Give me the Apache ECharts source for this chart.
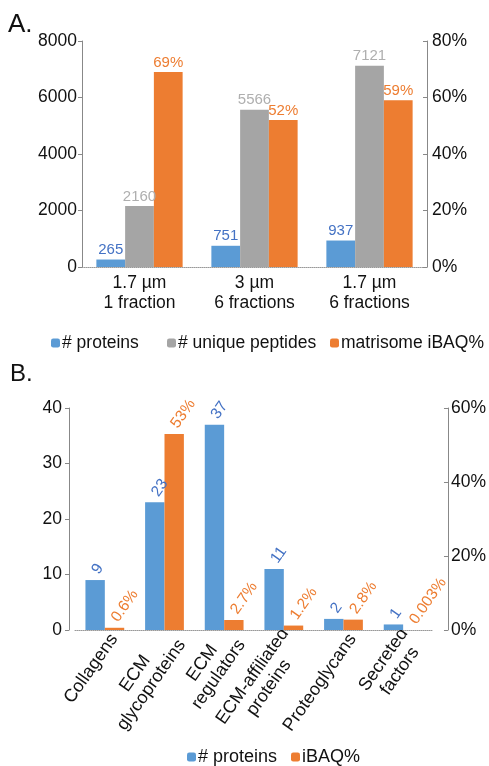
<!DOCTYPE html>
<html><head><meta charset="utf-8">
<script src="https://cdn.jsdelivr.net/npm/echarts@6/dist/echarts.min.js"></script>
<style>html,body{margin:0;padding:0;background:#fff}#c{width:489px;height:766px}</style>
</head><body><div id="c"></div>
<script>
// ---- data ----
const catsA = ['1.7 µm\n1 fraction', '3 µm\n6 fractions', '1.7 µm\n6 fractions'];
const proteinsA = [265, 751, 937];
const peptidesA = [2160, 5566, 7121];
const ibaqA = [69, 52, 59];

const catsB = ['Collagens', 'ECM\nglycoproteins', 'ECM\nregulators', 'ECM-affiliated\nproteins', 'Proteoglycans', 'Secreted\nfactors'];
const proteinsB = [9, 23, 37, 11, 2, 1];
const ibaqB = [0.6, 53, 2.7, 1.2, 2.8, 0.003];

const legendA = ['# proteins', '# unique peptides', 'matrisome iBAQ%'];
const legendB = ['# proteins', 'iBAQ%'];

// ---- styles ----
const FONT = "'Liberation Sans', Arial, sans-serif";
const BLUE = '#5B9BD5', GRAY = '#A5A5A5', ORANGE = '#ED7D31';
const BLUE_T = '#4472C4', GRAY_T = '#AFAFAF', ORANGE_T = '#ED7D31';
const AX = '#888888', TXT = '#111111';

function yAx(grid, pos, min, max, interval, suffix, offset, margin) {
  return {
    type: 'value', gridIndex: grid, position: pos, min: min, max: max, interval: interval, offset: offset || 0,
    axisLine: { show: true, lineStyle: { color: AX, width: 1 } },
    axisTick: { show: true, inside: pos === 'right', length: 4, lineStyle: { color: AX } },
    axisLabel: { fontSize: 17.5, color: TXT, fontFamily: FONT, margin: margin, formatter: v => String(v) + suffix },
    splitLine: { show: false }
  };
}

const labA = (color) => ({ show: true, position: 'top', distance: 2, fontSize: 15, color: color, fontFamily: FONT });
const labB = (color, fmt) => ({
  show: true, position: 'top', distance: 2, rotate: 55, align: 'left', verticalAlign: 'bottom',
  offset: [4.5, 5], fontSize: 15.5, color: color, fontFamily: FONT, formatter: fmt
});

const chart = echarts.init(document.getElementById('c'), null, { renderer: 'canvas' });
const legendItem = (name, left, top, fs) => ({
  data: [name], left: left, top: top, padding: 0, itemWidth: 9, itemHeight: 9, itemGap: 0,
  textStyle: { fontSize: fs, color: TXT, fontFamily: FONT, padding: [0, 0, 0, -3] }
});
chart.setOption({
  animation: false,
  backgroundColor: '#fff',
  textStyle: { fontFamily: FONT },
  title: [
    { text: 'A.', left: 8, top: 12, padding: 0, textStyle: { fontSize: 26, fontWeight: 'normal', color: TXT, fontFamily: FONT } },
    { text: 'B.', left: 10, top: 362, padding: 0, textStyle: { fontSize: 24, fontWeight: 'normal', color: TXT, fontFamily: FONT } }
  ],
  legend: [
    legendItem(legendA[0], 51, 334, 17.5),
    legendItem(legendA[1], 167, 334, 17.5),
    legendItem(legendA[2], 330, 334, 17.5),
    legendItem(legendB[0], 187, 748, 18),
    legendItem(legendB[1], 291, 748, 18)
  ],
  grid: [
    { left: 82, right: 62, top: 41, height: 226, containLabel: false },
    { left: 75, right: 45, top: 408, height: 222, containLabel: false }
  ],
  xAxis: [
    {
      type: 'category', gridIndex: 0, data: catsA,
      axisLine: { show: true, lineStyle: { color: '#999', type: 'dotted', width: 1 } },
      axisTick: { show: false },
      axisLabel: { fontSize: 17.5, color: TXT, fontFamily: FONT, lineHeight: 20, margin: 6, interval: 0 }
    },
    {
      type: 'category', gridIndex: 1, data: catsB,
      axisLine: { show: true, lineStyle: { color: '#999', type: 'dotted', width: 1 } },
      axisTick: { show: false },
      axisLabel: {
        rotate: 55, interval: 0, margin: 19, padding: [0, -16, 0, 0], fontSize: 18, color: TXT, fontFamily: FONT, lineHeight: 20,
        formatter: v => v.split('\n').map(s => '{c|' + s + '}').join('\n'),
        rich: { c: { align: 'center', fontSize: 18, color: TXT, fontFamily: FONT, lineHeight: 20 } }
      }
    }
  ],
  yAxis: [
    yAx(0, 'left', 0, 8000, 2000, '', 0, 5),
    yAx(0, 'right', 0, 80, 20, '%', 0, 5),
    yAx(1, 'left', 0, 40, 10, '', 6, 7),
    yAx(1, 'right', 0, 60, 20, '%', 15, 3)
  ],
  series: [
    { name: legendA[0], type: 'bar', xAxisIndex: 0, yAxisIndex: 0, data: proteinsA, itemStyle: { color: BLUE }, barGap: '0%', barCategoryGap: '25%', label: labA(BLUE_T) },
    { name: legendA[1], type: 'bar', xAxisIndex: 0, yAxisIndex: 0, data: peptidesA, itemStyle: { color: GRAY }, barGap: '0%', barCategoryGap: '25%', label: labA(GRAY_T) },
    { name: legendA[2], type: 'bar', xAxisIndex: 0, yAxisIndex: 1, data: ibaqA, itemStyle: { color: ORANGE }, barGap: '0%', barCategoryGap: '25%', label: Object.assign(labA(ORANGE_T), { formatter: p => p.value + '%' }) },
    { name: legendB[0], type: 'bar', xAxisIndex: 1, yAxisIndex: 2, data: proteinsB, itemStyle: { color: BLUE }, barGap: '0%', barCategoryGap: '35%', label: labB(BLUE_T, p => String(p.value)) },
    { name: legendB[1], type: 'bar', xAxisIndex: 1, yAxisIndex: 3, data: ibaqB, itemStyle: { color: ORANGE }, barGap: '0%', barCategoryGap: '35%', label: labB(ORANGE_T, p => p.value + '%') }
  ]
});
</script>
</body></html>
